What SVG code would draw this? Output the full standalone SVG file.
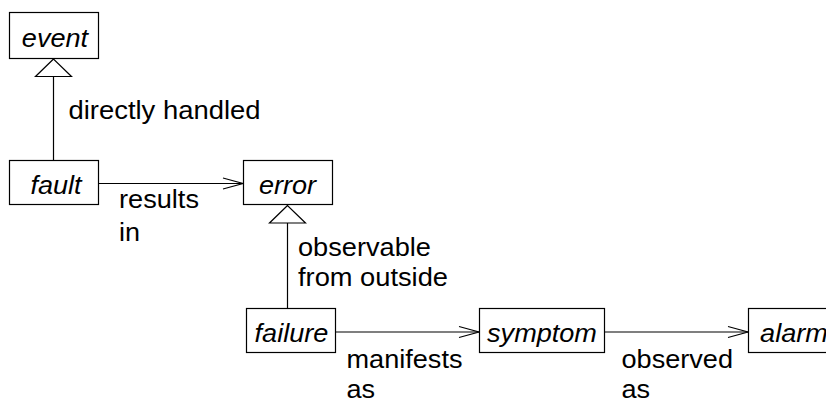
<svg xmlns="http://www.w3.org/2000/svg" width="826" height="402" viewBox="0 0 826 402">
  <style>
    .box { fill: #fff; stroke: #000; stroke-width: 1.2; }
    .name { font-family: "Liberation Sans", Arial, sans-serif; font-size: 25px; font-style: italic; fill: #000; text-anchor: middle; }
    .label { font-family: "Liberation Sans", Arial, sans-serif; font-size: 25px; fill: #000; }
    .link { fill: none; stroke: #000; stroke-width: 1.2; }
  </style>
  <defs>
    <marker id="open-arrow" markerUnits="userSpaceOnUse" orient="auto" refX="0" refY="0" markerWidth="30" markerHeight="30" overflow="visible">
      <path d="M-20,-5.5 L0,0 L-20,5.5" fill="none" stroke="#000" stroke-width="1.2"/>
    </marker>
    <marker id="generalization" markerUnits="userSpaceOnUse" orient="auto" refX="0" refY="0" markerWidth="40" markerHeight="40" overflow="visible">
      <path d="M0,0 L-17.5,-18 L-17.5,18 Z" fill="#fff" stroke="#000" stroke-width="1.2"/>
    </marker>
  </defs>

  <g id="connectors">
    <line class="link" x1="53.5" y1="160.5" x2="53.5" y2="59" marker-end="url(#generalization)"/>
    <line class="link" x1="98.5" y1="183.5" x2="243" y2="183.5" marker-end="url(#open-arrow)"/>
    <line class="link" x1="287.5" y1="308.5" x2="287.5" y2="205.5" marker-end="url(#generalization)"/>
    <line class="link" x1="335.5" y1="332" x2="479" y2="332" marker-end="url(#open-arrow)"/>
    <line class="link" x1="604.5" y1="332" x2="748" y2="332" marker-end="url(#open-arrow)"/>

    <text class="label" x="68.5" y="119" textLength="192" lengthAdjust="spacingAndGlyphs">directly handled</text>
    <text class="label" x="119" y="207.5" textLength="80" lengthAdjust="spacingAndGlyphs">results</text>
    <text class="label" x="119" y="240.5" textLength="21" lengthAdjust="spacingAndGlyphs">in</text>
    <text class="label" x="298" y="256" textLength="133" lengthAdjust="spacingAndGlyphs">observable</text>
    <text class="label" x="298" y="285.5" textLength="150" lengthAdjust="spacingAndGlyphs">from outside</text>
    <text class="label" x="346.5" y="368" textLength="116" lengthAdjust="spacingAndGlyphs">manifests</text>
    <text class="label" x="346.5" y="397.5" textLength="28.6" lengthAdjust="spacingAndGlyphs">as</text>
    <text class="label" x="621.5" y="368" textLength="111.5" lengthAdjust="spacingAndGlyphs">observed</text>
    <text class="label" x="621.5" y="397.5" textLength="28.6" lengthAdjust="spacingAndGlyphs">as</text>
  </g>

  <g id="event">
    <rect class="box" x="9.5" y="12.5" width="89" height="46"/>
    <text class="name" x="55" y="46.5" textLength="66.3" lengthAdjust="spacingAndGlyphs">event</text>
  </g>
  <g id="fault">
    <rect class="box" x="9.5" y="160.5" width="89" height="44"/>
    <text class="name" x="56" y="194" textLength="51.2" lengthAdjust="spacingAndGlyphs">fault</text>
  </g>
  <g id="error">
    <rect class="box" x="243.5" y="160.5" width="89" height="44"/>
    <text class="name" x="287.5" y="194" textLength="57.2" lengthAdjust="spacingAndGlyphs">error</text>
  </g>
  <g id="failure">
    <rect class="box" x="246.5" y="308.5" width="89" height="44"/>
    <text class="name" x="291.5" y="342" textLength="73.8" lengthAdjust="spacingAndGlyphs">failure</text>
  </g>
  <g id="symptom">
    <rect class="box" x="479.5" y="308.5" width="125" height="44"/>
    <text class="name" x="542" y="342" textLength="109.9" lengthAdjust="spacingAndGlyphs">symptom</text>
  </g>
  <g id="alarm">
    <rect class="box" x="748.5" y="308.5" width="89" height="44"/>
    <text class="name" x="794" y="342" textLength="67.8" lengthAdjust="spacingAndGlyphs">alarm</text>
  </g>
</svg>
